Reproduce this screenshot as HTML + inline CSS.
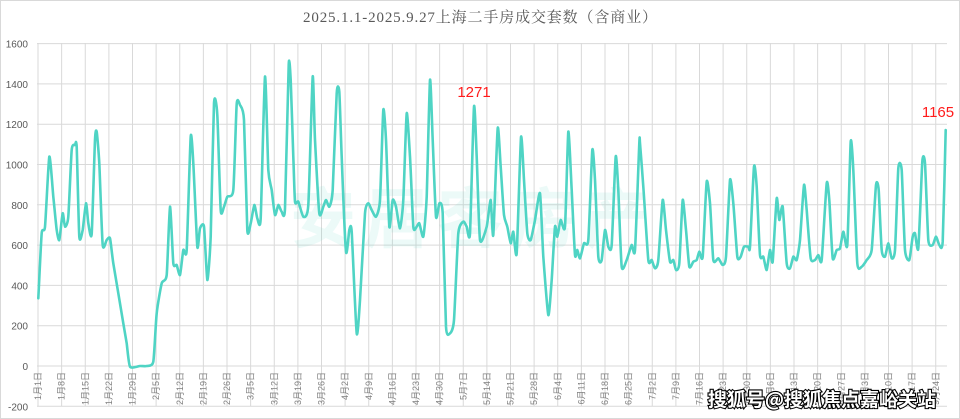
<!DOCTYPE html>
<html><head><meta charset="utf-8"><style>
html,body{margin:0;padding:0;background:#fff;}
svg{display:block;font-family:"Liberation Sans","Noto Sans CJK SC",sans-serif;}
</style></head><body>
<svg id="c" width="960" height="419" xmlns="http://www.w3.org/2000/svg">
<rect x="0.5" y="0.5" width="959" height="418" fill="#fff" stroke="#d9d9d9"/>
<text x="480" y="22" text-anchor="middle" font-size="15" fill="#595959" font-family="Liberation Serif,Noto Serif CJK SC,serif" textLength="354">2025.1.1-2025.9.27上海二手房成交套数（含商业）</text>
<g id="grid"></g>
<text x="290" y="242" font-size="66" font-weight="bold" fill="#4ed2bf" opacity="0.1" font-family="Noto Sans CJK SC,sans-serif" textLength="360">安居客房产</text>
<path id="line" fill="none" stroke="#4fd4c4" stroke-width="2.6" stroke-linejoin="round" stroke-linecap="round"/>
<text x="474" y="97" text-anchor="middle" font-size="15" fill="#ff1a1a">1271</text>
<text x="938" y="117" text-anchor="middle" font-size="15" fill="#ff1a1a">1165</text>
<text x="822" y="406" text-anchor="middle" font-size="19" font-weight="bold" fill="#fff" stroke="#000" stroke-width="2.2" paint-order="stroke" font-family="Noto Sans CJK SC,sans-serif">搜狐号@搜狐焦点嘉峪关站</text>
</svg>
<script>
var NS="http://www.w3.org/2000/svg",g=document.getElementById('grid');
function el(t,a,txt){var e=document.createElementNS(NS,t);for(var k in a)e.setAttribute(k,a[k]);if(txt)e.textContent=txt;g.appendChild(e);return e;}
var x0=37,x1=947;
for(var v=-200;v<=1600;v+=200){var y=366-v*0.2015;
 el('line',{x1:x0,x2:x1,y1:y,y2:y,stroke:'#d9d9d9','stroke-width':1});
 el('text',{x:28,y:y+4,'text-anchor':'end','font-size':10,fill:'#595959'},String(v));}
for(var k=0;k<39;k++){var x=38+k*7*3.375;
 el('line',{x1:x,x2:x,y1:43,y2:406,stroke:'#d9d9d9','stroke-width':1});
 var dd=new Date(2025,0,1+7*k);
 el('text',{x:0,y:0,transform:'translate('+(x+3)+',372) rotate(-90)','text-anchor':'end','font-size':9,fill:'#808080'},(dd.getMonth()+1)+'月'+dd.getDate()+'日');}
var z1=[[115,805],[125,610],[135,590],[148,380],[160,500],[170,600],[178,630],[188,550],[195,590],[205,560],[215,360],[225,345],[230,350],[238,620],[248,600],[258,520],[265,580],[275,612],[285,330],[290,305],[298,400],[308,645],[320,630],[330,625],[340,700],[370,880],[380,940],[390,1010],[420,1008],[440,1008],[460,995],[470,850],[485,760],[500,735],[510,530],[520,700],[530,705],[540,735],[550,660],[560,660],[572,320],[580,400],[592,650],[600,595],[612,590],[622,750],[632,620],[642,220],[652,255],[662,540],[672,530],[682,500],[700,480],[710,222],[720,225],[732,270],[742,600],[752,580],[763,525],[772,565],[782,565],[795,140],[805,420],[815,480],[825,555],[835,525],[845,545],[855,535],[866,105],[872,150],[880,380],[885,515],[895,515]];
var z3=[[10,530],[25,495],[38,110],[45,300],[58,520],[70,500],[78,480],[88,500],[98,450],[110,160],[118,155],[125,350],[138,635],[148,570],[155,575],[170,880],[180,780],[195,520],[205,490],[215,510],[228,530],[240,480],[250,210],[258,300],[268,560],[278,480],[288,500],[300,565],[310,480],[320,220],[330,350],[340,560],[350,560],[358,550],[370,590],[380,470],[390,120],[398,300],[408,530],[418,490],[428,520],[438,860],[450,880],[462,840],[475,580],[490,545],[500,560]];
var z4=[[0,580],[12,200],[20,350],[30,600],[50,560],[62,480],[70,585],[83,265],[92,380],[102,525],[112,560],[122,610],[130,575],[140,640],[153,292],[162,420],[172,580],[182,600],[195,540],[210,460],[220,650],[235,825],[245,720],[255,560],[262,590],[272,540],[285,560],[295,275],[305,450],[315,645],[322,630],[330,655],[342,610],[355,600],[367,330],[375,420],[385,650],[395,660],[405,570],[415,620],[425,615],[437,350],[445,450],[455,680],[470,660],[485,615],[495,630],[508,310]];
var z2=[[0,340],[10,470],[25,690],[35,690],[45,715],[55,690],[68,510],[78,600],[90,695],[100,690],[108,720],[118,700],[128,510],[138,600],[148,710],[160,695],[170,690],[178,665],[188,680],[200,455],[210,520],[220,690],[235,685],[248,705],[258,680],[270,450],[280,520],[292,680],[302,680],[312,650],[325,650],[330,650],[342,410],[350,470],[360,675],[370,680],[380,720],[390,660],[398,695],[410,505],[418,570],[428,530],[440,700],[450,715],[460,680],[470,690],[480,630],[492,465],[500,540],[512,685],[525,690],[535,675],[545,690],[560,460],[568,510],[578,685],[590,660],[600,655],[610,605],[622,645],[632,335],[640,420],[652,700],[665,710],[680,690],[695,660],[708,465],[716,480],[725,660],[735,680],[745,640],[755,685],[765,660],[775,415],[785,420],[795,660],[808,690],[818,620],[825,610],[835,655],[847,395],[855,400],[865,630],[878,645],[888,620],[898,645],[908,635],[917,300]];
var P=[];
z1.forEach(function(p){P.push([p[0]/3,30+p[1]/3]);});
z3.forEach(function(p){P.push([300+p[0]/3,40+p[1]/3]);});
z4.forEach(function(p){P.push([470+p[0]/3,40+p[1]/3]);});
z2.forEach(function(p){P.push([640+p[0]/3,30+p[1]/3]);});
var s='M'+P[0][0].toFixed(1)+','+P[0][1].toFixed(1);
for(var i=0;i<P.length-1;i++){var p0=P[i-1]||P[i],p1=P[i],p2=P[i+1],p3=P[i+2]||p2,t=0.1;
 s+='C'+(p1[0]+(p2[0]-p0[0])*t).toFixed(1)+','+(p1[1]+(p2[1]-p0[1])*t).toFixed(1)+' '+(p2[0]-(p3[0]-p1[0])*t).toFixed(1)+','+(p2[1]-(p3[1]-p1[1])*t).toFixed(1)+' '+p2[0].toFixed(1)+','+p2[1].toFixed(1);}
document.getElementById('line').setAttribute('d',s);
</script>
</body></html>
